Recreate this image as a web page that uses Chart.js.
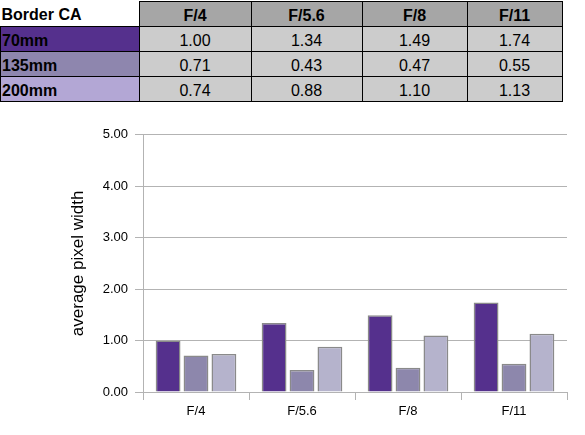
<!DOCTYPE html>
<html>
<head>
<meta charset="utf-8">
<script src="https://cdn.jsdelivr.net/npm/chart.js@4"></script>
<style>
	body { margin: 0; background: #fff; font-family: "Liberation Sans", Arial, sans-serif; }
	#tbl { position: absolute; left: 0; top: 1px; border-collapse: collapse; font-size: 16px; }
	#tbl td, #tbl th { height: 21px; padding: 3px 0 0 0; border: 1px solid #000; vertical-align: middle; }
	#tbl td { text-align: center; background: #ccc; }
	#tbl th { background: #a6a6a6; font-weight: bold; }
	#tbl td.lab { text-align: left; font-weight: bold; padding-left: 1px; }
	#tbl th.corner { background: #fff; border: none; text-align: left; padding-left: 1px; }
	#wrap { position: absolute; left: 0; top: 120px; width: 585px; height: 315px; }
</style>
</head>
<body>
<table id="tbl"></table>
<div id="wrap"><canvas id="barChart"></canvas></div>
<script>
const apertures = ['F/4', 'F/5.6', 'F/8', 'F/11'];
const lenses = ['70mm', '135mm', '200mm'];
const vals70 = [1.00, 1.34, 1.49, 1.74];
const vals135 = [0.71, 0.43, 0.47, 0.55];
const vals200 = [0.74, 0.88, 1.10, 1.13];
const yTicks = [0, 1, 2, 3, 4, 5];

const barColors = ['#55308d', '#8d87ac', '#b5b3cc'];
const rowColors = ['#55308d', '#8e86ae', '#b3a7d5'];
const colWidths = [137, 112, 111, 105, 95];

document.addEventListener('DOMContentLoaded', () => {
	// table above the chart
	const tbl = document.getElementById('tbl');
	let html = '<tr><th class="corner" style="width:' + colWidths[0] + 'px">Border CA</th>';
	apertures.forEach((a, i) => {
		html += '<th style="width:' + (colWidths[i + 1] - 1) + 'px">' + a + '</th>';
	});
	html += '</tr>';
	[vals70, vals135, vals200].forEach((row, r) => {
		html += '<tr><td class="lab" style="background:' + rowColors[r] + '">' + lenses[r] + '</td>';
		row.forEach(v => { html += '<td>' + v.toFixed(2) + '</td>'; });
		html += '</tr>';
	});
	tbl.innerHTML = html;

	const ctx = document.getElementById('barChart');
	new Chart(ctx, {
		type: 'bar',
		data: {
			labels: apertures,
			datasets: [vals70, vals135, vals200].map((d, i) => ({
				label: lenses[i],
				data: d,
				backgroundColor: barColors[i],
				borderColor: '#8a8a8a',
				borderWidth: 1.5,
				barPercentage: 0.89,
				categoryPercentage: 0.79
			}))
		},
		options: {
			responsive: true,
			maintainAspectRatio: false,
			animation: false,
			layout: { padding: { top: 13, right: 18, left: 0, bottom: 0 } },
			plugins: { legend: { display: false }, tooltip: { enabled: false } },
			scales: {
				x: {
					afterFit: s => { s.height = 43; },
					grid: { offset: true, drawOnChartArea: false, drawTicks: true, tickLength: 8, color: '#b3b3b3' },
					border: { color: '#b3b3b3' },
					ticks: { color: '#000', padding: 4, font: { family: 'Liberation Sans', size: 13 } }
				},
				y: {
					min: 0,
					max: 5,
					afterFit: s => { s.width = 143; },
					afterBuildTicks: s => { s.ticks = yTicks.map(v => ({ value: v })); },
					grid: { color: '#b3b3b3', tickLength: 8 },
					border: { color: '#b3b3b3' },
					ticks: {
						color: '#000',
						padding: 7,
						font: { family: 'Liberation Sans', size: 13 },
						callback: v => v.toFixed(2)
					},
					title: {
						display: true,
						text: 'average pixel width',
						color: '#000',
						padding: { top: 68, bottom: 0 },
						font: { family: 'Liberation Sans', size: 17 }
					}
				}
			}
		}
	});
});
</script>
</body>
</html>
